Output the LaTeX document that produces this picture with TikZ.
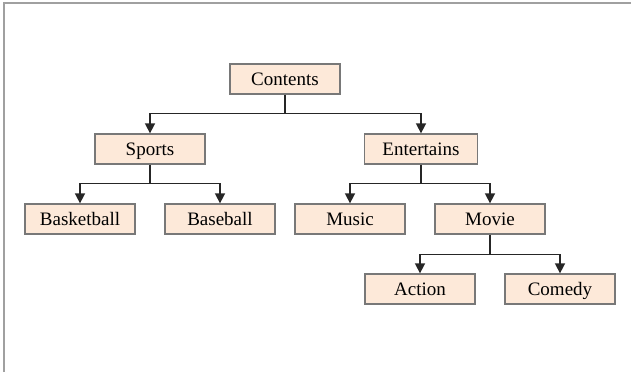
\documentclass[tikz,border=0pt]{standalone}
\usepackage{fontspec}
\setmainfont{Liberation Serif}
\usepackage{tikz}
\usetikzlibrary{arrows.meta}

\definecolor{boxfill}{RGB}{253,233,217}
\definecolor{boxline}{RGB}{120,120,120}
\definecolor{frameline}{RGB}{160,160,160}

\begin{document}
\begin{tikzpicture}[x=1pt, y=-1pt,
	box/.style={shape=rectangle, draw=boxline, fill=boxfill, line width=1.3pt,
		minimum width=110pt, minimum height=30pt, inner sep=0pt,
		text height=15pt, text depth=2pt,
		text=black, font=\fontsize{19}{21}\selectfont},
	link/.style={line width=1.6pt, black!85},
	>={Triangle[width=10pt, length=10pt]}]
	
	\useasboundingbox (0, 0) rectangle (631, 372);
	\draw[frameline, line width=1.6pt] (4, 372) -- (4, 3) -- (631, 3);
	
	\node[box] (contents) at (285, 79)     {Contents};
	\node[box] (sports) at (150, 149)     {Sports};
	\node[box, minimum width=113pt] (entertains) at (421, 149)     {Entertains};
	\node[box] (basketball) at (80, 219)     {Basketball};
	\node[box] (baseball) at (220, 219)     {Baseball};
	\node[box] (music) at (350, 219)     {Music};
	\node[box] (movie) at (490, 219)     {Movie};
	\node[box] (action) at (420, 289)     {Action};
	\node[box] (comedy) at (560, 289)     {Comedy};
	
    \draw[link] (contents.south) -- ++(0, 19) coordinate (c1);
    \draw[link, ->] (c1) -| (sports.north);
    \draw[link, ->] (c1) -| (entertains.north);
    
    \draw[link] (sports.south) -- ++(0, 19) coordinate (s1);
    \draw[link, ->] (s1) -| (basketball.north);
    \draw[link, ->] (s1) -| (baseball.north);
    
    \draw[link] (entertains.south) -- ++(0, 19) coordinate (e1);
    \draw[link, ->] (e1) -| (music.north);
    \draw[link, ->] (e1) -| (movie.north);
    
    \draw[link] (movie.south) -- ++(0, 20) coordinate (m1);
    \draw[link, ->] (m1) -| (action.north);
    \draw[link, ->] (m1) -| (comedy.north);

	\end{tikzpicture}
\end{document}
